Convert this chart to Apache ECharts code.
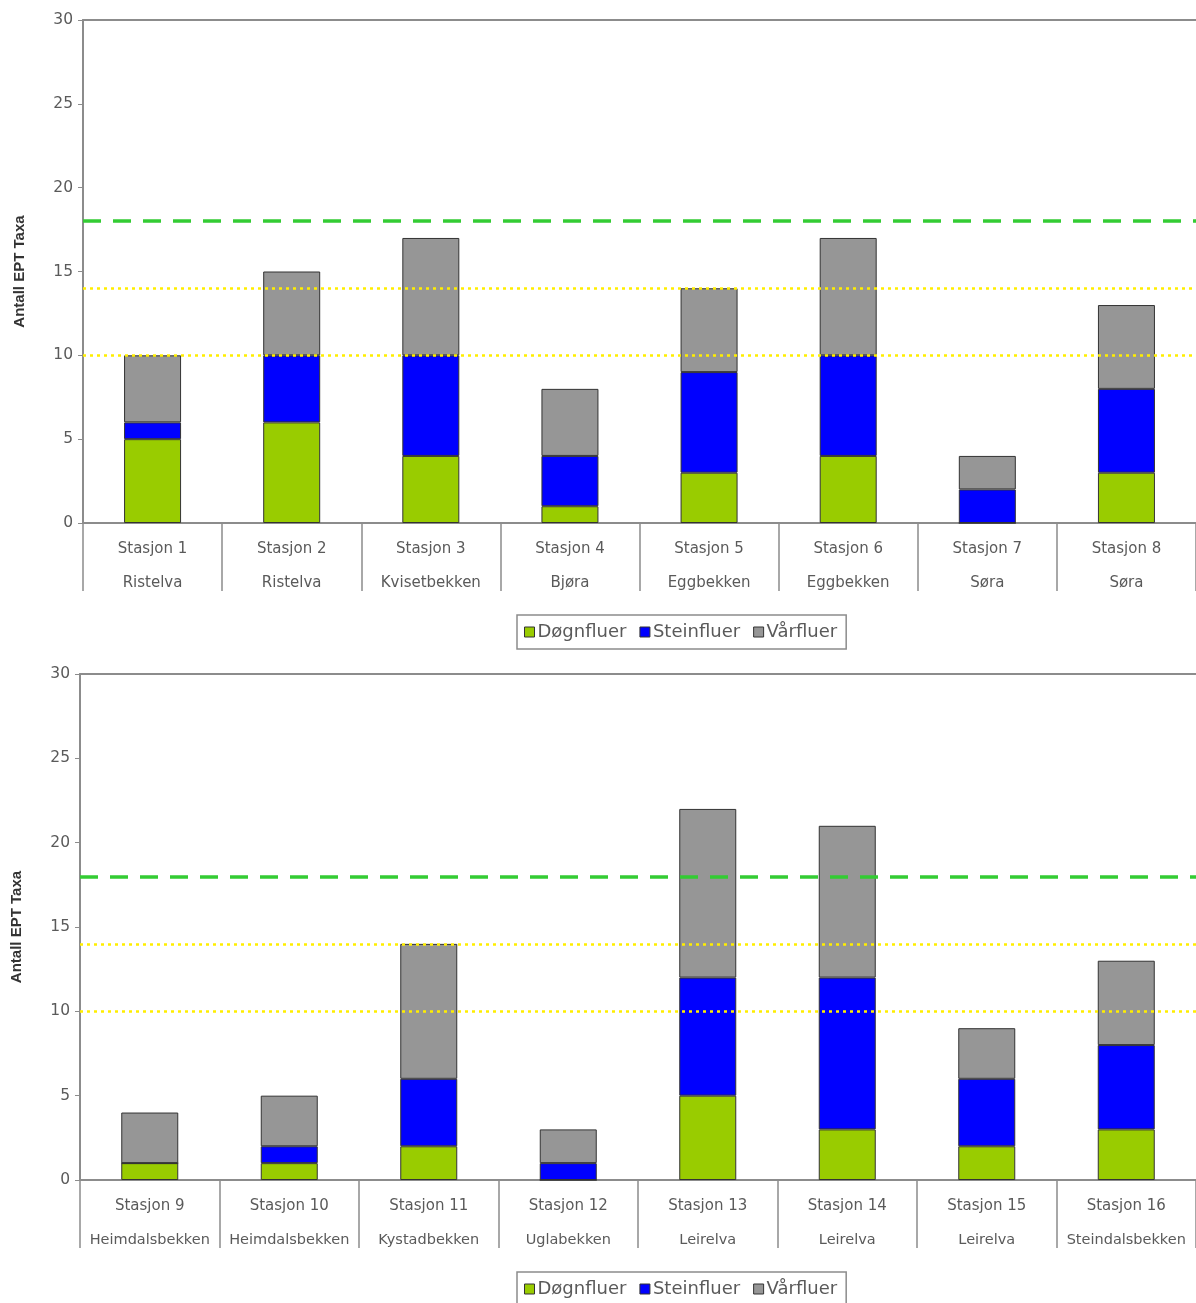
<!DOCTYPE html>
<html>
<head>
<meta charset="utf-8">
<script src="https://cdn.jsdelivr.net/npm/echarts@6/dist/echarts.min.js"></script>
<style>
  html, body { margin: 0; padding: 0; background: #fff; }
  #main { width: 1196px; height: 1303px; }
</style>
</head>
<body>
<div id="main"></div>
<script>
// data
const seriesNames = ['Døgnfluer', 'Steinfluer', 'Vårfluer']
const yTicks = [0, 5, 10, 15, 20, 25, 30]
const refLines = [18, 14, 10]

const topStations = ['Stasjon 1', 'Stasjon 2', 'Stasjon 3', 'Stasjon 4', 'Stasjon 5', 'Stasjon 6', 'Stasjon 7', 'Stasjon 8']
const topRivers = ['Ristelva', 'Ristelva', 'Kvisetbekken', 'Bjøra', 'Eggbekken', 'Eggbekken', 'Søra', 'Søra']
const topDogn = [5, 6, 4, 1, 3, 4, 0, 3]
const topStein = [1, 4, 6, 3, 6, 6, 2, 5]
const topVar = [4, 5, 7, 4, 5, 7, 2, 5]

const bottomStations = ['Stasjon 9', 'Stasjon 10', 'Stasjon 11', 'Stasjon 12', 'Stasjon 13', 'Stasjon 14', 'Stasjon 15', 'Stasjon 16']
const bottomRivers = ['Heimdalsbekken', 'Heimdalsbekken', 'Kystadbekken', 'Uglabekken', 'Leirelva', 'Leirelva', 'Leirelva', 'Steindalsbekken']
const bottomDogn = [1, 1, 2, 0, 5, 3, 2, 3]
const bottomStein = [0, 1, 4, 1, 7, 9, 4, 5]
const bottomVar = [3, 3, 8, 2, 10, 9, 3, 5]

const colors = ['#99cc00', '#0000ff', '#969696']
const axisGrey = '#8c8c8c'
const textGrey = '#5a5a5a'

function categoryAxis (gridIndex, stations, rivers) {
  return {
    type: 'category',
    gridIndex: gridIndex,
    data: stations.map((s, i) => s + '|' + rivers[i]),
    axisLine: { lineStyle: { color: axisGrey, width: 2 } },
    axisTick: { show: true, length: 68, lineStyle: { color: axisGrey, width: 1.5 } },
    axisLabel: {
      margin: 9,
      interval: 0,
      formatter: v => {
        const p = v.split('|')
        return '{a|' + p[0] + '}\n{b|' + p[1] + '}'
      },
      rich: {
        a: { fontFamily: 'DejaVu Sans', fontSize: 15, color: textGrey, lineHeight: 34 },
        b: { fontFamily: 'DejaVu Sans', fontSize: gridIndex === 0 ? 15 : 14.5, color: textGrey, lineHeight: 34 },
      },
    },
  }
}

function topBorderAxis (gridIndex) {
  return {
    type: 'category',
    gridIndex: gridIndex,
    position: 'top',
    data: yTicks.slice(0, 1),
    axisLine: { lineStyle: { color: axisGrey, width: 2 } },
    axisTick: { show: false },
    axisLabel: { show: false },
  }
}

function valueAxis (gridIndex) {
  return {
    type: 'value',
    gridIndex: gridIndex,
    min: yTicks[0],
    max: yTicks[yTicks.length - 1],
    interval: 5,
    name: 'Antall EPT Taxa',
    nameLocation: 'middle',
    nameGap: 56,
    nameTextStyle: { fontFamily: 'Liberation Sans', fontWeight: 'bold', fontSize: 15, color: '#333' },
    axisLine: { show: true, lineStyle: { color: axisGrey, width: 2 } },
    axisTick: { show: true, length: 5, lineStyle: { color: axisGrey } },
    axisLabel: { fontFamily: 'DejaVu Sans', fontSize: 15.5, color: textGrey, margin: 10 },
    splitLine: { show: false },
  }
}

function refMarkLine () {
  return {
    silent: true,
    symbol: 'none',
    z: 10,
    label: { show: false },
    data: refLines.map((v, i) => ({
      yAxis: v,
      lineStyle: i === 0
        ? { color: '#33cc33', type: [18, 12], width: 3.5 }
        : { color: '#ffee00', type: [3, 4], width: 2.5 },
    })),
  }
}

function barSeries (gridIndex, values) {
  return values.map((data, i) => ({
    name: seriesNames[i],
    type: 'bar',
    stack: 'g' + gridIndex,
    xAxisIndex: gridIndex * 2,
    yAxisIndex: gridIndex,
    barWidth: 57,
    data: data,
    itemStyle: { color: colors[i], borderColor: '#333', borderWidth: 1 },
    markLine: i === 2 ? refMarkLine() : undefined,
  }))
}

function legend (top) {
  return {
    data: seriesNames,
    left: 517,
    top: top,
    orient: 'horizontal',
    itemWidth: 10,
    itemHeight: 10,
    itemGap: 13,
    padding: [8, 9, 8, 7],
    borderColor: axisGrey,
    borderWidth: 1.5,
    borderRadius: 0,
    icon: 'rect',
    selectedMode: false,
    textStyle: { fontFamily: 'DejaVu Sans', fontSize: 18, color: textGrey, padding: [0, 0, 0, -2] },
    itemStyle: { borderColor: '#333', borderWidth: 1 },
  }
}

const chart = echarts.init(document.getElementById('main'))
chart.setOption({
  animation: false,
  backgroundColor: '#fff',
  color: colors,
  grid: [
    { left: 83, top: 20, right: 0, height: 503 },
    { left: 80, top: 674, right: 0, height: 506 },
  ],
  legend: [legend(615), legend(1272)],
  xAxis: [
    categoryAxis(0, topStations, topRivers),
    topBorderAxis(0),
    categoryAxis(1, bottomStations, bottomRivers),
    topBorderAxis(1),
  ],
  yAxis: [valueAxis(0), valueAxis(1)],
  series: [
    ...barSeries(0, [topDogn, topStein, topVar]),
    ...barSeries(1, [bottomDogn, bottomStein, bottomVar]),
  ],
})
</script>
</body>
</html>
